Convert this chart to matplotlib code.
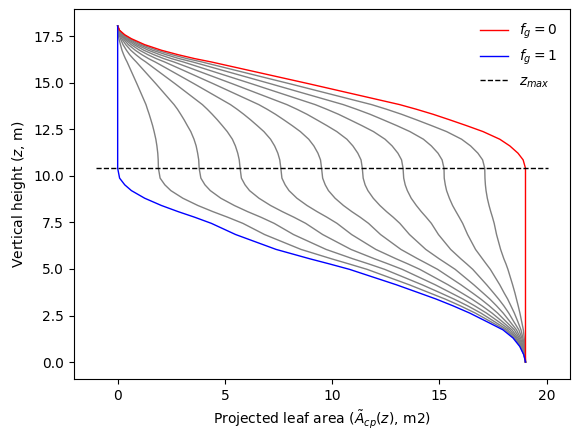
import matplotlib
matplotlib.use("Agg")
import matplotlib.pyplot as plt

z_max = 10.41

# f_g = 0 curve
red_x = [0, 0.09, 0.33, 0.64, 1.26, 2.04, 2.82, 3.59, 4.37, 5.77, 8.95, 13.15, 13.93,
         14.71, 15.49, 16.27, 17.04, 17.82, 18.29, 18.67, 18.91, 19.02, 19.02]
red_z = [18.05, 17.82, 17.58, 17.37, 17.05, 16.75, 16.51, 16.30, 16.12, 15.76, 14.94, 13.83, 13.58,
         13.31, 13.01, 12.70, 12.38, 11.97, 11.61, 11.22, 10.86, 10.41, 0.0]

# f_g = 1 curve
blue_x = [0, 0, 0.09, 0.33, 0.64, 1.26, 2.04, 2.82, 3.59, 4.37, 5.5, 7.39, 8.95, 9.88, 10.81,
          13.0, 14.09, 14.86, 15.64, 16.42, 17.2, 17.97, 18.44, 18.75, 18.94, 19.02]
blue_z = [18.05, 10.41, 9.88, 9.52, 9.21, 8.80, 8.41, 8.08, 7.78, 7.45, 6.85, 6.05, 5.55, 5.27, 4.98,
          4.15, 3.70, 3.38, 3.02, 2.63, 2.18, 1.73, 1.29, 0.84, 0.39, 0.0]

# intermediate curves f_g = 0.1 ... 0.9
# heights above z_max, then below z_max
grey_z_upper = [18.05, 17.82, 17.58, 17.37, 17.05, 16.75, 16.51, 16.30, 16.12, 15.76, 14.94,
                13.83, 13.58, 13.31, 13.01, 12.70, 12.38, 11.97, 11.61, 11.22, 10.86, 10.41]
grey_z_lower = [9.88, 9.52, 9.21, 8.80, 8.41, 8.08, 7.78, 7.45, 6.85, 6.05, 5.55, 5.27,
                4.98, 4.15, 3.70, 3.38, 3.02, 2.63, 2.18, 1.73, 1.29, 0.84, 0.39, 0.0]

grey_x_upper = [
    [0, 0.08, 0.30, 0.58, 1.13, 1.84, 2.54, 3.23, 3.93, 5.19, 8.06, 11.84, 12.54, 13.24, 13.94, 14.64, 15.34, 16.04, 16.46, 16.80, 17.02, 17.12],
    [0, 0.07, 0.26, 0.51, 1.01, 1.63, 2.26, 2.87, 3.50, 4.62, 7.16, 10.52, 11.14, 11.77, 12.39, 13.02, 13.63, 14.26, 14.63, 14.94, 15.13, 15.22],
    [0, 0.06, 0.23, 0.45, 0.88, 1.43, 1.97, 2.51, 3.06, 4.04, 6.27, 9.21, 9.75, 10.30, 10.84, 11.39, 11.93, 12.47, 12.80, 13.07, 13.24, 13.31],
    [0, 0.05, 0.20, 0.38, 0.76, 1.22, 1.69, 2.15, 2.62, 3.46, 5.37, 7.89, 8.36, 8.83, 9.29, 9.76, 10.22, 10.69, 10.97, 11.20, 11.35, 11.41],
    [0, 0.05, 0.17, 0.32, 0.63, 1.02, 1.41, 1.80, 2.19, 2.89, 4.48, 6.58, 6.97, 7.36, 7.75, 8.14, 8.52, 8.91, 9.15, 9.34, 9.46, 9.51],
    [0, 0.04, 0.13, 0.26, 0.50, 0.82, 1.13, 1.44, 1.75, 2.31, 3.58, 5.26, 5.57, 5.88, 6.20, 6.51, 6.82, 7.13, 7.32, 7.47, 7.56, 7.61],
    [0, 0.03, 0.10, 0.19, 0.38, 0.61, 0.85, 1.08, 1.31, 1.73, 2.69, 3.95, 4.18, 4.41, 4.65, 4.88, 5.11, 5.35, 5.49, 5.60, 5.67, 5.71],
    [0, 0.02, 0.07, 0.13, 0.25, 0.41, 0.56, 0.72, 0.87, 1.15, 1.79, 2.63, 2.79, 2.94, 3.10, 3.25, 3.41, 3.56, 3.66, 3.73, 3.78, 3.80],
    [0, 0.01, 0.03, 0.06, 0.13, 0.20, 0.28, 0.36, 0.44, 0.58, 0.90, 1.32, 1.39, 1.47, 1.55, 1.63, 1.70, 1.78, 1.83, 1.87, 1.89, 1.90],
]
grey_x_lower = [
    [17.13, 17.15, 17.18, 17.24, 17.32, 17.40, 17.48, 17.56, 17.67, 17.86, 18.01, 18.11, 18.20, 18.42, 18.53, 18.60, 18.68, 18.76, 18.84, 18.92, 18.96, 18.99, 19.01, 19.02],
    [15.23, 15.28, 15.34, 15.47, 15.62, 15.78, 15.93, 16.09, 16.32, 16.69, 17.01, 17.19, 17.38, 17.82, 18.03, 18.19, 18.34, 18.50, 18.66, 18.81, 18.90, 18.97, 19.00, 19.02],
    [13.34, 13.41, 13.51, 13.69, 13.93, 14.16, 14.39, 14.63, 14.96, 15.53, 16.00, 16.28, 16.56, 17.21, 17.54, 17.77, 18.01, 18.24, 18.47, 18.71, 18.85, 18.94, 19.00, 19.02],
    [11.45, 11.54, 11.67, 11.92, 12.23, 12.54, 12.85, 13.16, 13.61, 14.37, 14.99, 15.36, 15.74, 16.61, 17.05, 17.36, 17.67, 17.98, 18.29, 18.60, 18.79, 18.91, 18.99, 19.02],
    [9.56, 9.68, 9.83, 10.14, 10.53, 10.92, 11.31, 11.70, 12.26, 13.21, 13.99, 14.45, 14.92, 16.01, 16.56, 16.94, 17.33, 17.72, 18.11, 18.50, 18.73, 18.89, 18.98, 19.02],
    [7.66, 7.81, 7.99, 8.36, 8.83, 9.30, 9.76, 10.23, 10.91, 12.04, 12.98, 13.54, 14.09, 15.41, 16.06, 16.52, 16.99, 17.46, 17.93, 18.39, 18.67, 18.86, 18.97, 19.02],
    [5.77, 5.94, 6.15, 6.59, 7.13, 7.68, 8.22, 8.77, 9.56, 10.88, 11.97, 12.62, 13.27, 14.81, 15.57, 16.11, 16.65, 17.20, 17.75, 18.29, 18.61, 18.83, 18.96, 19.02],
    [3.88, 4.07, 4.32, 4.81, 5.44, 6.06, 6.68, 7.30, 8.20, 9.72, 10.96, 11.71, 12.45, 14.20, 15.08, 15.69, 16.32, 16.94, 17.56, 18.18, 18.56, 18.80, 18.96, 19.02],
    [1.98, 2.20, 2.48, 3.04, 3.74, 4.44, 5.13, 5.84, 6.85, 8.55, 9.96, 10.79, 11.63, 13.60, 14.58, 15.28, 15.98, 16.68, 17.38, 18.08, 18.50, 18.78, 18.95, 19.02],
]

fig, ax = plt.subplots(figsize=(5.8, 4.4), dpi=100)
fig.subplots_adjust(left=0.127, right=0.983, bottom=0.139, top=0.979)

for gu, gl in zip(grey_x_upper, grey_x_lower):
    ax.plot(gu + gl, grey_z_upper + grey_z_lower, color="grey", lw=1)
ax.plot(red_x, red_z, color="red", lw=1, label="$f_g = 0$")
ax.plot(blue_x, blue_z, color="blue", lw=1, label="$f_g = 1$")
ax.hlines(z_max, -1, 20.05, colors="black", linestyles="--", lw=1, label="$z_{max}$")

ax.set_xlabel(r"Projected leaf area ($\tilde{A}_{cp}(z)$, m2)")
ax.set_ylabel("Vertical height ($z$, m)")
ax.legend(frameon=False, loc="upper right")

plt.savefig("out.png")
